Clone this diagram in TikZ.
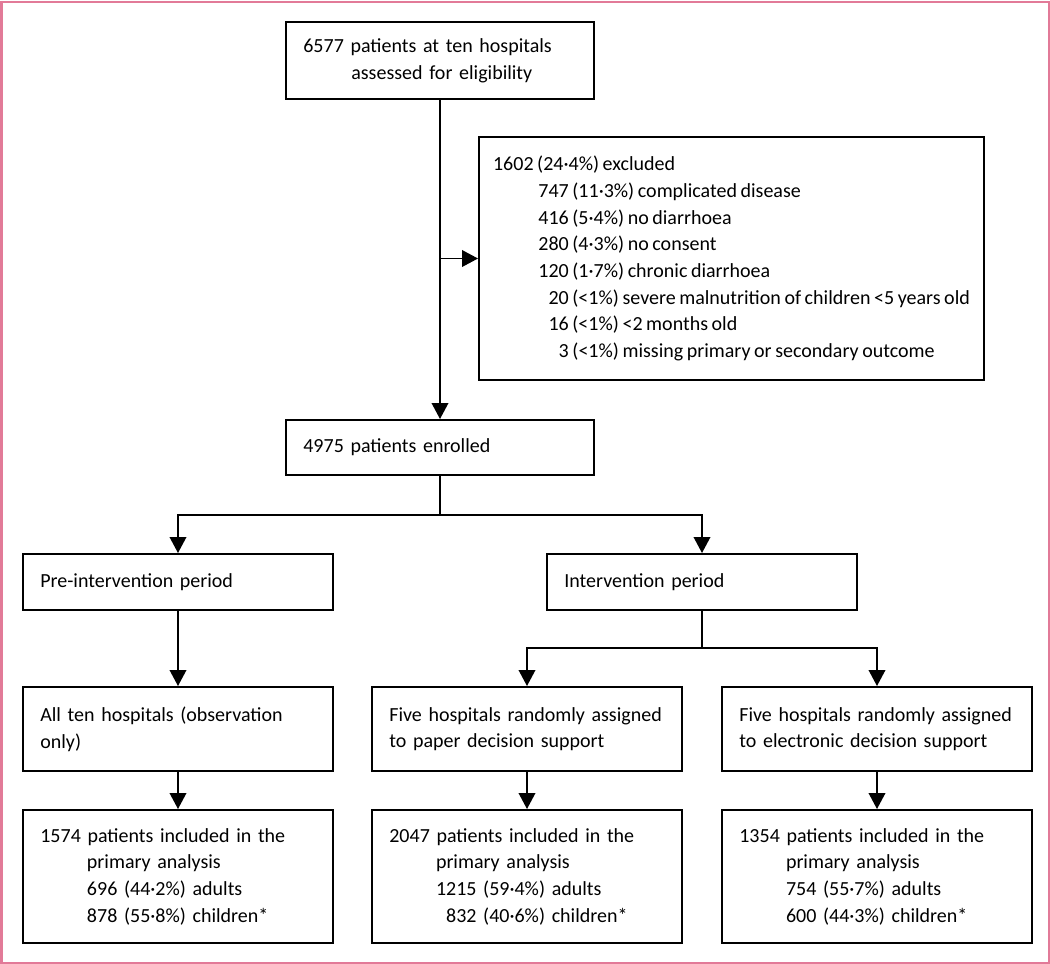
\documentclass[tikz,border=0pt]{standalone}
\usepackage{fontspec}
\setmainfont{Carlito}
\usetikzlibrary{arrows.meta}
\newcommand\flowfont{\fontsize{15pt}{20pt}\selectfont
  \spaceskip=0.18em\relax\hyphenpenalty=10000\relax}

\begin{document}
\begin{tikzpicture}
[x=0.75pt,y=-0.75pt,
% Styles
flow box/.style={draw,line width=1.5pt,anchor=north west,align=left,
  inner xsep=13pt,inner ysep=2pt,font=\flowfont},
wide box/.style={flow box,minimum width=232.5pt,text width=206.5pt},
flow line/.style={line width=1.2pt},
flow arrow/.style={flow line,-{Triangle[length=12pt,width=12.5pt]}}]
% Colors
\definecolor{framecolor}{RGB}{226,122,152}
% The frame
\useasboundingbox (0,0) rectangle (1050,964);
\draw[framecolor,line width=1.5pt] (1.5,1.5) rectangle (1048.5,962.5);
% The boxes
\node[flow box,minimum width=231pt,text width=205pt,minimum height=57.75pt]
  (assessed) at (285,21)
  {6577 patients at ten hospitals\\\hspace*{36pt}assessed for eligibility};
\node[flow box,inner xsep=10pt,minimum width=378.75pt,minimum height=182.25pt]
  (excluded) at (478,136)
  {1602 (24·4\%) excluded\\
   \hspace*{34pt}747 (11·3\%) complicated disease\\
   \hspace*{34pt}416 (5·4\%) no diarrhoea\\
   \hspace*{34pt}280 (4·3\%) no consent\\
   \hspace*{34pt}120 (1·7\%) chronic diarrhoea\\
   \hspace*{34pt}\phantom{7}20 (<1\%) severe malnutrition of children <5 years old\\
   \hspace*{34pt}\phantom{7}16 (<1\%) <2 months old\\
   \hspace*{34pt}\phantom{74}3 (<1\%) missing primary or secondary outcome};
\node[flow box,minimum width=231pt,text width=205pt,minimum height=41.25pt]
  (enrolled) at (285,419) {4975 patients enrolled};
\node[wide box,minimum height=42pt] (pre) at (22,553) {Pre-intervention period};
\node[wide box,minimum height=42pt] (inter) at (546,553) {Intervention period};
\node[wide box,minimum height=63pt] (allhosp) at (22,686)
  {All ten hospitals (observation\\only)};
\node[wide box,minimum height=63pt] (paper) at (371,686)
  {Five hospitals randomly assigned\\to paper decision support};
\node[wide box,minimum height=63pt] (elec) at (721,686)
  {Five hospitals randomly assigned\\to electronic decision support};
\node[wide box,minimum height=99.75pt] (respre) at (22,809)
  {1574 patients included in the\\
   \hspace*{35pt}primary analysis\\
   \hspace*{35pt}696 (44·2\%) adults\\
   \hspace*{35pt}878 (55·8\%) children*};
\node[wide box,minimum height=99.75pt] (respaper) at (371,809)
  {2047 patients included in the\\
   \hspace*{35pt}primary analysis\\
   \hspace*{35pt}1215 (59·4\%) adults\\
   \hspace*{35pt}\phantom{1}832 (40·6\%) children*};
\node[wide box,minimum height=99.75pt] (reselec) at (721,809)
  {1354 patients included in the\\
   \hspace*{35pt}primary analysis\\
   \hspace*{35pt}754 (55·7\%) adults\\
   \hspace*{35pt}600 (44·3\%) children*};
% The connectors
\draw[flow arrow] (assessed.south) -- (enrolled.north);
\draw[flow arrow] (assessed.south |- excluded.west) -- (excluded.west);
\draw[flow line] (enrolled.south) -- (enrolled.south |- 0,515) coordinate (split);
\draw[flow arrow] (split) -| (pre.north);
\draw[flow arrow] (split) -| (inter.north);
\draw[flow arrow] (pre.south) -- (allhosp.north);
\draw[flow line] (inter.south) -- (inter.south |- 0,648) coordinate (split2);
\draw[flow arrow] (split2) -| (paper.north);
\draw[flow arrow] (split2) -| (elec.north);
\draw[flow arrow] (allhosp.south) -- (respre.north);
\draw[flow arrow] (paper.south) -- (respaper.north);
\draw[flow arrow] (elec.south) -- (reselec.north);
\end{tikzpicture}
\end{document}
